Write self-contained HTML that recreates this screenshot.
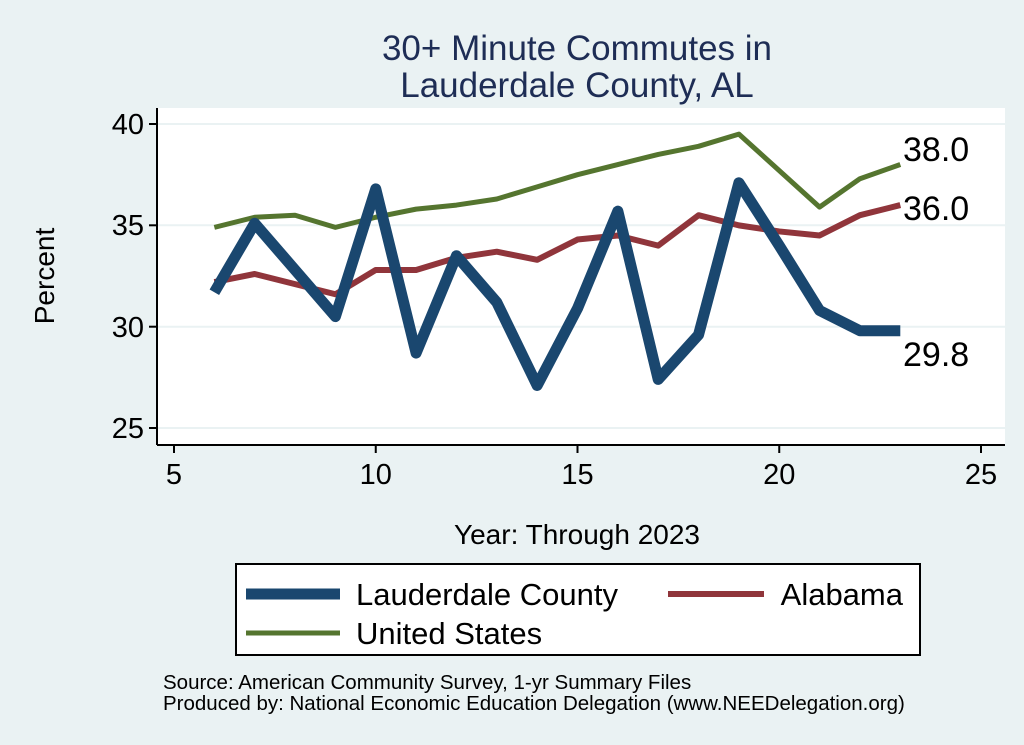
<!DOCTYPE html>
<html><head><style>
body{margin:0;background:#eaf2f3;}
svg{display:block;font-family:"Liberation Sans",sans-serif;}
</style></head><body>
<svg width="1024" height="745" viewBox="0 0 1024 745">
<rect width="1024" height="745" fill="#eaf2f3"/>
<rect x="157" y="108" width="848" height="337" fill="#fff"/>
<g stroke="#eaf2f3" stroke-width="2">
<line x1="157" x2="1005" y1="124" y2="124"/>
<line x1="157" x2="1005" y1="225.3" y2="225.3"/>
<line x1="157" x2="1005" y1="326.7" y2="326.7"/>
<line x1="157" x2="1005" y1="428" y2="428"/>
</g>
<g stroke="#000" stroke-width="2">
<line x1="157" x2="157" y1="108" y2="445"/>
<line x1="157" x2="1005" y1="445" y2="445"/>
<line x1="149" x2="157" y1="124" y2="124"/>
<line x1="149" x2="157" y1="225.3" y2="225.3"/>
<line x1="149" x2="157" y1="326.7" y2="326.7"/>
<line x1="149" x2="157" y1="428" y2="428"/>
<line x1="174" x2="174" y1="445" y2="453"/>
<line x1="375.75" x2="375.75" y1="445" y2="453"/>
<line x1="577.5" x2="577.5" y1="445" y2="453"/>
<line x1="779.25" x2="779.25" y1="445" y2="453"/>
<line x1="981" x2="981" y1="445" y2="453"/>
</g>
<g font-size="29" text-anchor="end" fill="#000">
<text x="144" y="134">40</text><text x="144" y="235">35</text><text x="144" y="337">30</text><text x="144" y="438">25</text>
</g>
<g font-size="29" text-anchor="middle" fill="#000">
<text x="174" y="484">5</text><text x="375.75" y="484">10</text><text x="577.5" y="484">15</text><text x="779.25" y="484">20</text><text x="981" y="484">25</text>
<text x="577" y="544" font-size="28">Year: Through 2023</text>
<text transform="translate(54,276) rotate(-90)" font-size="28">Percent</text>
</g>
<g font-size="35" text-anchor="middle" fill="#1e2d55">
<text x="577" y="60">30+ Minute Commutes in</text>
<text x="577" y="97">Lauderdale County, AL</text>
</g>
<g transform="matrix(40.35 0 0 -20.27 -27.75 934.8)" fill="none" stroke-linejoin="round">
<polyline vector-effect="non-scaling-stroke" stroke="#55752f" stroke-width="5" points="6,34.9 7,35.4 8,35.5 9,34.9 10,35.4 11,35.8 12,36.0 13,36.3 14,36.9 15,37.5 16,38.0 17,38.5 18,38.9 19,39.5 21,35.9 22,37.3 23,38.0"/>
<polyline vector-effect="non-scaling-stroke" stroke="#90353b" stroke-width="6" points="6,32.2 7,32.6 8,32.1 9,31.6 10,32.8 11,32.8 12,33.4 13,33.7 14,33.3 15,34.3 16,34.5 17,34.0 18,35.5 19,35.0 20,34.7 21,34.5 22,35.5 23,36.0"/>
<polyline vector-effect="non-scaling-stroke" stroke="#1a476f" stroke-width="11" points="6,31.7 7,35.1 8,32.8 9,30.5 10,36.8 11,28.7 12,33.5 13,31.2 14,27.1 15,30.9 16,35.7 17,27.4 18,29.6 19,37.1 20,34 21,30.8 22,29.8 23,29.8"/>
</g>
<g font-size="34" fill="#000">
<text x="903" y="161">38.0</text><text x="903" y="220">36.0</text><text x="903" y="366">29.8</text>
</g>
<rect x="236" y="564" width="684" height="91" fill="#fff" stroke="#000" stroke-width="2"/>
<line x1="246" x2="340" y1="594" y2="594" stroke="#1a476f" stroke-width="11"/>
<line x1="668" x2="764" y1="594" y2="594" stroke="#90353b" stroke-width="6"/>
<line x1="246" x2="340" y1="633" y2="633" stroke="#55752f" stroke-width="5"/>
<g font-size="31" fill="#000">
<text x="356" y="605">Lauderdale County</text>
<text x="903" y="605" text-anchor="end">Alabama</text>
<text x="356" y="644">United States</text>
</g>
<g font-size="20.5" fill="#000">
<text x="163" y="689">Source: American Community Survey, 1-yr Summary Files</text>
<text x="163" y="710">Produced by: National Economic Education Delegation (www.NEEDelegation.org)</text>
</g>
</svg>
</body></html>
